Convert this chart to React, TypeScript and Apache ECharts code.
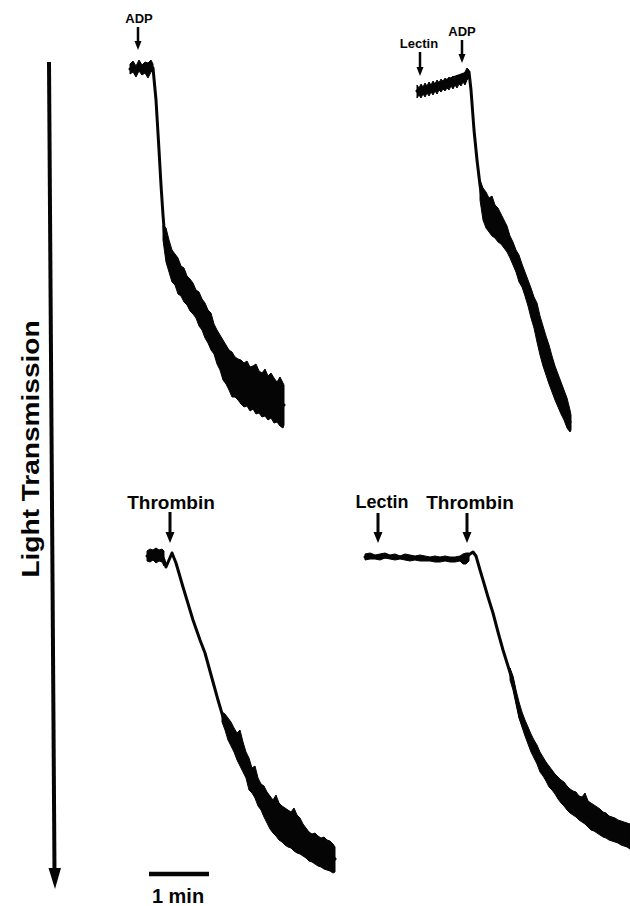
import React, { useEffect, useRef } from "react";
import * as echarts from "echarts";

// Time in seconds after the start of each recording window, deflection in arbitrary units (down = more transmission)
// Top-left: ADP
const tlBaseT = [5, 8, 11, 14, 17, 20, 23, 26, 28];
const tlBaseUpper = [24, 21, 26, 20, 25, 22, 23, 20, 24];
const tlBaseLower = [34, 32, 37, 31, 35, 33, 38, 32, 30];
const tlTraceT = [5, 15, 25, 28, 31, 34, 36, 38, 40, 43, 47, 55, 65, 75, 85, 95, 105, 115, 125, 135, 145, 155, 159];
const tlTraceY = [29, 28, 27, 28, 60, 110, 145, 175, 200, 212, 225, 240, 255, 270, 291, 317, 333, 342, 349, 355, 359, 363, 365];
const tlNoiseT = [38, 41, 44, 47, 50, 53, 56, 59, 62, 65, 68, 71, 74, 77, 80, 83, 86, 89, 92, 95, 98, 101, 104, 107, 110, 113, 116, 119, 122, 125, 128, 131, 134, 137, 140, 143, 146, 149, 152, 155, 158, 159];
const tlNoiseUpper = [185, 188, 200, 210, 214, 218, 226, 228, 236, 239, 243, 250, 252, 259, 263, 270, 273, 284, 290, 295, 300, 305, 310, 312, 317, 319, 320, 323, 321, 327, 326, 324, 331, 333, 329, 336, 333, 338, 342, 337, 343, 345];
const tlNoiseLower = [200, 222, 232, 242, 245, 254, 256, 262, 265, 271, 274, 278, 286, 290, 298, 303, 310, 314, 324, 330, 340, 344, 350, 357, 357, 360, 364, 367, 366, 371, 369, 374, 373, 377, 376, 380, 378, 383, 382, 386, 388, 385];

// Top-right: Lectin then ADP
const trBaseT = [7, 9, 11, 13, 15, 17, 19, 21, 23, 25, 27, 29, 31, 33, 35, 37, 39, 41, 43, 45, 47, 49, 51, 53, 55, 57, 59];
const trBaseUpper = [45, 48, 44, 47, 43, 46, 42, 45, 41, 44, 40, 43, 39, 42, 38, 41, 37, 40, 36, 39, 35, 38, 34, 36, 32, 28, 30];
const trBaseLower = [58, 55, 58, 54, 57, 53, 56, 52, 55, 51, 54, 50, 52, 49, 51, 48, 50, 46, 49, 45, 48, 44, 46, 42, 45, 40, 38];
const trTraceT = [7, 57, 59, 61, 64, 67, 70, 73, 77, 82, 90, 100, 110, 117, 123, 130, 137, 143, 150, 157, 160];
const trTraceY = [51, 33, 32, 50, 90, 120, 145, 165, 175, 182, 188, 208, 231, 250, 272, 297, 320, 340, 357, 372, 382];
const trNoiseT = [70, 73, 76, 79, 82, 85, 88, 91, 94, 97, 100, 103, 106, 109, 112, 115, 118, 121, 124, 127, 130, 133, 136, 139, 142, 145, 148, 151, 154, 157, 160, 161];
const trNoiseUpper = [140, 148, 152, 158, 156, 165, 168, 174, 180, 186, 196, 202, 210, 215, 224, 232, 240, 248, 257, 263, 276, 286, 296, 305, 316, 326, 334, 342, 350, 358, 370, 375];
const trNoiseLower = [160, 180, 188, 192, 196, 198, 202, 204, 208, 212, 218, 225, 232, 242, 247, 256, 266, 278, 288, 302, 315, 326, 335, 344, 352, 360, 367, 374, 380, 388, 392, 390];

// Bottom-left: Thrombin
const blBaseT = [7, 10, 13, 16, 19, 22, 24];
const blBaseUpper = [31, 29, 30, 28, 30, 29, 31];
const blBaseLower = [41, 42, 40, 43, 41, 42, 46];
const blTraceT = [7, 22, 24, 26, 29, 32, 36, 43, 53, 60, 65, 73, 78, 83, 90, 100, 110, 120, 130, 140, 150, 160, 170, 180, 190, 195];
const blTraceY = [36, 36, 40, 47, 40, 33, 43, 67, 100, 120, 133, 162, 180, 197, 215, 230, 261, 276, 293, 301, 308, 315, 326, 332, 335, 339];
const blNoiseT = [82, 85, 88, 91, 94, 97, 100, 103, 106, 109, 112, 115, 118, 121, 124, 127, 130, 133, 136, 139, 142, 145, 148, 151, 154, 157, 160, 163, 166, 169, 172, 175, 178, 181, 184, 187, 190, 193, 195];
const blNoiseUpper = [192, 194, 198, 202, 208, 213, 210, 222, 232, 238, 248, 246, 258, 264, 266, 272, 276, 280, 275, 283, 286, 288, 290, 292, 288, 295, 298, 304, 308, 312, 314, 313, 316, 318, 317, 320, 321, 324, 327];
const blNoiseLower = [202, 210, 220, 226, 232, 240, 246, 252, 258, 270, 273, 278, 286, 290, 297, 303, 309, 313, 316, 320, 322, 325, 327, 328, 331, 333, 334, 336, 338, 341, 342, 344, 346, 347, 349, 350, 351, 353, 352];

// Bottom-right: Lectin then Thrombin
const brBaseT = [5, 10, 15, 20, 25, 30, 35, 40, 45, 50, 55, 60, 65, 70, 75, 80, 85, 90, 95, 100, 103, 106, 109];
const brBaseUpper = [34, 33, 35, 34, 33, 35, 34, 36, 34, 35, 36, 35, 36, 37, 36, 37, 36, 37, 37, 36, 34, 33, 33];
const brBaseLower = [40, 39, 39, 40, 38, 39, 40, 39, 40, 41, 40, 41, 41, 41, 42, 42, 41, 42, 42, 41, 44, 44, 41];
const brTraceT = [5, 40, 70, 100, 106, 110, 113, 116, 120, 123, 128, 133, 138, 143, 148, 153, 160, 170, 180, 190, 200, 210, 220, 230, 240, 250, 260, 270];
const brTraceY = [37, 37, 39, 39, 38, 34, 32, 36, 50, 60, 77, 93, 112, 130, 146, 162, 197, 223, 243, 260, 271, 281, 288, 296, 302, 308, 311, 315];
const brNoiseT = [150, 153, 156, 159, 162, 165, 168, 171, 174, 177, 180, 183, 186, 189, 192, 195, 198, 201, 204, 207, 210, 213, 216, 219, 222, 225, 228, 231, 234, 237, 240, 243, 246, 249, 252, 255, 258, 261, 264, 267, 270];
const brNoiseUpper = [148, 156, 170, 182, 192, 200, 207, 214, 220, 225, 232, 237, 242, 246, 250, 254, 257, 260, 262, 266, 269, 271, 272, 276, 277, 273, 281, 283, 285, 287, 289, 292, 293, 296, 297, 298, 300, 301, 302, 303, 304];
const brNoiseLower = [160, 170, 184, 198, 207, 216, 224, 232, 238, 244, 252, 256, 261, 267, 270, 274, 279, 283, 286, 290, 293, 295, 297, 300, 302, 304, 307, 310, 311, 313, 315, 317, 318, 320, 321, 322, 323, 325, 326, 327, 329];

// Scale bar: 1 min
const scaleBarT = [9, 69];
const scaleBarY = [354, 354];

const INK = "#050505";
const FONT = '"Liberation Sans", Arial, Helvetica, sans-serif';

type Band = [number[], number[], number[]];
interface Panel {
  grid: { left: number; top: number; width: number; height: number };
  xMax: number;
  yMax: number;
  bands: Band[];
  trace: [number[], number[]];
}

const panels: Panel[] = [
  {
    grid: { left: 125, top: 40, width: 175, height: 400 },
    xMax: 175,
    yMax: 400,
    bands: [
      [tlBaseT, tlBaseUpper, tlBaseLower],
      [tlNoiseT, tlNoiseUpper, tlNoiseLower],
    ],
    trace: [tlTraceT, tlTraceY],
  },
  {
    grid: { left: 410, top: 40, width: 175, height: 400 },
    xMax: 175,
    yMax: 400,
    bands: [
      [trBaseT, trBaseUpper, trBaseLower],
      [trNoiseT, trNoiseUpper, trNoiseLower],
    ],
    trace: [trTraceT, trTraceY],
  },
  {
    grid: { left: 140, top: 520, width: 200, height: 380 },
    xMax: 200,
    yMax: 380,
    bands: [
      [blBaseT, blBaseUpper, blBaseLower],
      [blNoiseT, blNoiseUpper, blNoiseLower],
    ],
    trace: [blTraceT, blTraceY],
  },
  {
    grid: { left: 360, top: 520, width: 270, height: 380 },
    xMax: 270,
    yMax: 380,
    bands: [
      [brBaseT, brBaseUpper, brBaseLower],
      [brNoiseT, brNoiseUpper, brNoiseLower],
    ],
    trace: [brTraceT, brTraceY],
  },
];

function arrow(x: number, y1: number, y2: number, lw: number, hw: number, hl: number) {
  return {
    type: "group",
    silent: true,
    children: [
      { type: "line", shape: { x1: x, y1, x2: x, y2: y2 - hl + 1 }, style: { stroke: INK, lineWidth: lw } },
      {
        type: "polygon",
        shape: { points: [[x - hw / 2, y2 - hl], [x + hw / 2, y2 - hl], [x, y2]] },
        style: { fill: INK },
      },
    ],
  };
}

function label(text: string, x: number, y: number, size: number, rotation = 0, scaleX = 1) {
  return {
    type: "text",
    x,
    y,
    rotation,
    scaleX,
    silent: true,
    style: {
      text,
      fill: INK,
      fontFamily: FONT,
      fontWeight: "bold",
      fontSize: size,
      align: "center",
      verticalAlign: "middle",
    },
  };
}

export default function App() {
  const ref = useRef<HTMLDivElement>(null);

  useEffect(() => {
    if (!ref.current) return;
    const chart = echarts.init(ref.current, null, { renderer: "svg" });

    const series: any[] = [];
    panels.forEach((p, i) => {
      p.bands.forEach(([t, up, lo]) => {
        series.push({
          type: "custom",
          xAxisIndex: i,
          yAxisIndex: i,
          silent: true,
          z: 2,
          data: t.map((v, k) => [v, up[k], lo[k]]),
          encode: { x: 0, y: [1, 2] },
          renderItem: (params: any, api: any) => {
            if (params.dataIndex !== 0) return null;
            const pts: number[][] = [];
            for (let k = 0; k < t.length; k++) pts.push(api.coord([t[k], up[k]]));
            for (let k = t.length - 1; k >= 0; k--) pts.push(api.coord([t[k], lo[k]]));
            return {
              type: "polygon",
              shape: { points: pts },
              style: { fill: INK, stroke: INK, lineWidth: 1 },
            };
          },
        });
      });
      series.push({
        type: "line",
        xAxisIndex: i,
        yAxisIndex: i,
        silent: true,
        z: 3,
        symbol: "none",
        showSymbol: false,
        data: p.trace[0].map((v, k) => [v, p.trace[1][k]]),
        lineStyle: { color: INK, width: 3, cap: "round", join: "round" },
      });
    });

    // 1 min scale bar in the bottom-left panel's time scale
    series.push({
      type: "line",
      xAxisIndex: 2,
      yAxisIndex: 2,
      silent: true,
      z: 3,
      symbol: "none",
      data: scaleBarT.map((v, k) => [v, scaleBarY[k]]),
      lineStyle: { color: INK, width: 4.5 },
    });

    const option: any = {
      animation: false,
      backgroundColor: "#ffffff",
      grid: panels.map((p) => ({ ...p.grid, containLabel: false, show: false })),
      xAxis: panels.map((p, i) => ({ type: "value", gridIndex: i, min: 0, max: p.xMax, show: false })),
      yAxis: panels.map((p, i) => ({ type: "value", gridIndex: i, min: 0, max: p.yMax, inverse: true, show: false })),
      series,
      graphic: [
        // Light transmission axis arrow
        {
          type: "line",
          silent: true,
          shape: { x1: 49, y1: 62, x2: 54.5, y2: 872 },
          style: { stroke: INK, lineWidth: 4 },
        },
        {
          type: "polygon",
          silent: true,
          shape: { points: [[48.5, 868], [61, 868], [55, 889]] },
          style: { fill: INK },
        },
        label("Light Transmission", 31, 449, 23, Math.PI / 2, 1.22),
        // Top-left
        label("ADP", 139, 18.5, 13),
        arrow(138, 27, 50, 2.5, 7, 9),
        // Top-right
        label("Lectin", 419, 43, 13),
        label("ADP", 462, 31.5, 13),
        arrow(420, 52, 76, 2.5, 7, 9),
        arrow(462, 40, 63, 2.5, 7, 9),
        // Bottom-left
        label("Thrombin", 171, 502, 19),
        arrow(170, 512, 543, 3, 9, 11),
        // Bottom-right
        label("Lectin", 382, 502, 18),
        label("Thrombin", 470, 502, 19),
        arrow(378, 513, 543, 3, 9, 11),
        arrow(467, 513, 543, 3, 9, 11),
        // Scale bar label
        label("1 min", 178, 896, 20),
      ],
    };

    chart.setOption(option);
    return () => chart.dispose();
  }, []);

  return (
    <div
      ref={ref}
      style={{ position: "absolute", left: 0, top: 0, width: 630, height: 906, background: "#ffffff" }}
    />
  );
}
